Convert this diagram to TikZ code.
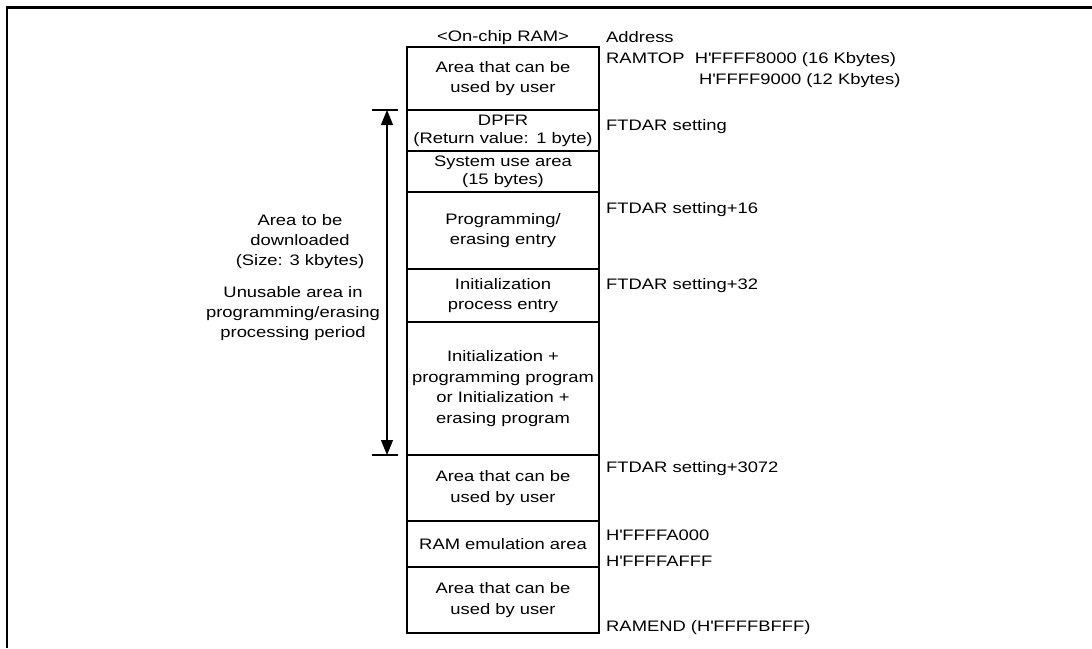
\documentclass[tikz,border=0pt]{standalone}
\usepackage{fontspec}
\setmainfont{Liberation Sans}[FakeStretch=1.21]
\usetikzlibrary{arrows.meta,positioning}
\newcommand{\hq}{\textquotesingle}
\tikzset{
  ram/.style={draw, line width=1.1pt, text width=190pt, align=center,
              inner xsep=1pt, inner ysep=0pt, outer sep=0pt,
              font=\fontsize{15.2}{20.5}\selectfont},
  tight/.style={font=\fontsize{15.2}{18.3}\selectfont},
  adr/.style={anchor=base west, inner sep=0pt, font=\fontsize{15.2}{20.5}\selectfont},
  lbl/.style={align=center, inner sep=0pt, font=\fontsize{15.2}{20}\selectfont},
  dimarr/.style={{Triangle[length=15pt,width=12pt]}-{Triangle[length=15pt,width=12pt]}, line width=1.1pt},
  tickln/.style={line width=1.1pt},
  frm/.style={line width=2.3pt},
}

\begin{document}
\begin{tikzpicture}[x=1pt, y=-1pt]
  \useasboundingbox (0,0) rectangle (1092,648);
  \draw[frm] (7,648) -- (7,7.5) -- (1092,7.5);

  % memory map
  \node[ram, minimum height=63pt, anchor=north] (user1) at (503,47) {Area that can be\\used by user};
  \node[ram, tight, minimum height=41pt, below=0pt of user1] (dpfr) {DPFR\\(Return value: 1 byte)};
  \node[ram, tight, minimum height=41pt, below=0pt of dpfr] (sys) {System use area\\(15 bytes)};
  \node[ram, minimum height=77pt, below=0pt of sys] (pgent) {Programming/\\erasing entry};
  \node[ram, minimum height=53pt, below=0pt of pgent] (inient) {Initialization\\process entry};
  \node[ram, minimum height=133pt, below=0pt of inient] (prog) {Initialization +\\programming program\\or Initialization +\\erasing program};
  \node[ram, minimum height=66pt, below=0pt of prog] (user2) {Area that can be\\used by user};
  \node[ram, minimum height=46pt, below=0pt of user2] (emu) {RAM emulation area};
  \node[ram, minimum height=66pt, below=0pt of emu] (user3) {Area that can be\\used by user};
  \node[inner sep=0pt, above=2pt of user1, font=\fontsize{15.2}{20.5}\selectfont] (ttl) {<On-chip RAM>};

  % download range
  \coordinate (dtop) at ([xshift=-20pt]dpfr.north west);
  \coordinate (dbot) at ([xshift=-20pt]prog.south west);
  \draw[dimarr] (dtop) -- (dbot);
  \draw[tickln] ([xshift=-15pt]dtop) -- ([xshift=11pt]dtop);
  \draw[tickln] ([xshift=-15pt]dbot) -- ([xshift=11pt]dbot);
  \node[lbl] (dlarea) at (300,242) {Area to be\\downloaded\\(Size: 3 kbytes)};
  \node[lbl] (unuse) at (293,314) {Unusable area in\\programming/erasing\\processing period};

  % addresses
  \node[adr] (adrhd) at (606,42.7) {Address};
  \node[adr] (rtop) at (606,63.3) {RAMTOP\ \ H\hq FFFF8000 (16 Kbytes)};
  \node[adr] (rtop2) at (699,84.3) {H\hq FFFF9000 (12 Kbytes)};
  \node[adr] (ft0) at (606,130) {FTDAR setting};
  \node[adr] (ft16) at (606,213) {FTDAR setting+16};
  \node[adr] (ft32) at (606,289) {FTDAR setting+32};
  \node[adr] (ft3072) at (606,472.7) {FTDAR setting+3072};
  \node[adr] (emus) at (606,540) {H\hq FFFFA000};
  \node[adr] (emue) at (606,566) {H\hq FFFFAFFF};
  \node[adr] (rend) at (606,631.7) {RAMEND (H\hq FFFFBFFF)};
\end{tikzpicture}
\end{document}
